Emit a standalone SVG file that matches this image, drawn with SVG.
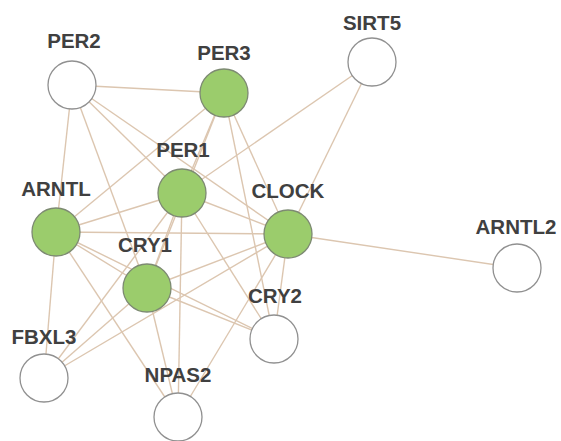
<svg xmlns="http://www.w3.org/2000/svg" width="561" height="441" viewBox="0 0 561 441">
  <style>
    .edge { stroke: #dcc6b0; stroke-width: 1.4; fill: none; }
    .node { stroke: #909090; stroke-width: 1.3; }
    .plain { fill: #ffffff; }
    .query { fill: #9bcc6c; stroke: #7d8a72; }
    .label { font-family: "Liberation Sans", Arial, sans-serif; font-weight: bold; font-size: 20.5px; fill: #404040; text-anchor: middle; }
  </style>
  <rect width="561" height="441" fill="#ffffff"/>

  <!-- interaction edges -->
  <g id="edges">
    <line class="edge" x1="72" y1="85" x2="224" y2="93"/>
    <line class="edge" x1="72" y1="85" x2="56" y2="232"/>
    <line class="edge" x1="72" y1="85" x2="147" y2="288"/>
    <line class="edge" x1="72" y1="85" x2="182" y2="193"/>
    <line class="edge" x1="72" y1="85" x2="288" y2="234"/>
    <line class="edge" x1="224" y1="93" x2="56" y2="232"/>
    <line class="edge" x1="224" y1="93" x2="182" y2="193"/>
    <line class="edge" x1="224" y1="93" x2="147" y2="288"/>
    <line class="edge" x1="224" y1="93" x2="288" y2="234"/>
    <line class="edge" x1="224" y1="93" x2="274" y2="339"/>
    <line class="edge" x1="372" y1="62" x2="182" y2="193"/>
    <line class="edge" x1="372" y1="62" x2="288" y2="234"/>
    <line class="edge" x1="182" y1="193" x2="56" y2="232"/>
    <line class="edge" x1="182" y1="193" x2="288" y2="234"/>
    <line class="edge" x1="182" y1="193" x2="147" y2="288"/>
    <line class="edge" x1="182" y1="193" x2="178" y2="417"/>
    <line class="edge" x1="182" y1="193" x2="44" y2="378"/>
    <line class="edge" x1="182" y1="193" x2="274" y2="339"/>
    <line class="edge" x1="56" y1="232" x2="288" y2="234"/>
    <line class="edge" x1="56" y1="232" x2="147" y2="288"/>
    <line class="edge" x1="56" y1="232" x2="274" y2="339"/>
    <line class="edge" x1="56" y1="232" x2="178" y2="417"/>
    <line class="edge" x1="56" y1="232" x2="44" y2="378"/>
    <line class="edge" x1="288" y1="234" x2="517" y2="268"/>
    <line class="edge" x1="288" y1="234" x2="147" y2="288"/>
    <line class="edge" x1="288" y1="234" x2="274" y2="339"/>
    <line class="edge" x1="288" y1="234" x2="178" y2="417"/>
    <line class="edge" x1="288" y1="234" x2="44" y2="378"/>
    <line class="edge" x1="147" y1="288" x2="274" y2="339"/>
    <line class="edge" x1="147" y1="288" x2="178" y2="417"/>
    <line class="edge" x1="147" y1="288" x2="44" y2="378"/>
  </g>

  <g id="PER2"><circle class="node plain" cx="72" cy="85" r="24"/><text class="label" x="74" y="48">PER2</text></g>
  <g id="PER3"><circle class="node query" cx="224" cy="93" r="24"/><text class="label" x="224" y="60">PER3</text></g>
  <g id="SIRT5"><circle class="node plain" cx="372" cy="62" r="24"/><text class="label" x="372" y="30">SIRT5</text></g>
  <g id="PER1"><circle class="node query" cx="182" cy="193" r="24"/><text class="label" x="183" y="157">PER1</text></g>
  <g id="ARNTL"><circle class="node query" cx="56" cy="232" r="24"/><text class="label" x="56" y="196">ARNTL</text></g>
  <g id="CLOCK"><circle class="node query" cx="288" cy="234" r="24"/><text class="label" x="288" y="198">CLOCK</text></g>
  <g id="ARNTL2"><circle class="node plain" cx="517" cy="268" r="24"/><text class="label" x="516" y="234">ARNTL2</text></g>
  <g id="CRY1"><circle class="node query" cx="147" cy="288" r="24"/><text class="label" x="145" y="252">CRY1</text></g>
  <g id="CRY2"><circle class="node plain" cx="274" cy="339" r="24"/><text class="label" x="275" y="303">CRY2</text></g>
  <g id="FBXL3"><circle class="node plain" cx="44" cy="378" r="24"/><text class="label" x="44" y="344">FBXL3</text></g>
  <g id="NPAS2"><circle class="node plain" cx="178" cy="417" r="24"/><text class="label" x="178" y="382">NPAS2</text></g>
</svg>
